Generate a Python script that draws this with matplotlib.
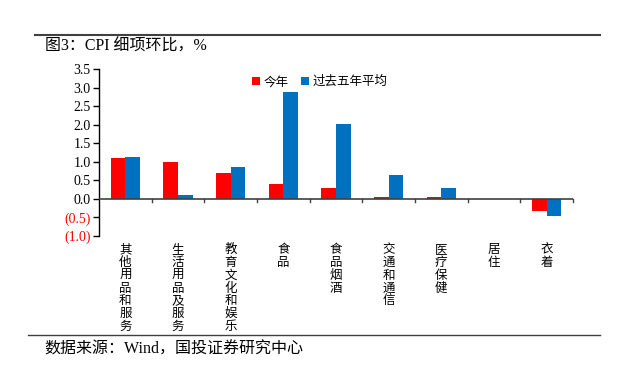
import matplotlib
matplotlib.use("Agg")
import matplotlib.pyplot as plt
import numpy as np

plt.rcParams['font.family'] = ['Liberation Serif', 'Noto Sans CJK SC']

categories = ["其他用品和服务", "生活用品及服务", "教育文化和娱乐", "食品", "食品烟酒",
              "交通和通信", "医疗保健", "居住", "衣着"]
this_year = [1.09, 0.99, 0.70, 0.39, 0.30, 0.06, 0.06, 0.0, -0.33]
avg5 = [1.13, 0.10, 0.86, 2.87, 2.02, 0.65, 0.29, 0.01, -0.46]
yticks = [-1.0, -0.5, 0.0, 0.5, 1.0, 1.5, 2.0, 2.5, 3.0, 3.5]
series_names = ["今年", "过去五年平均"]

W, H = 643, 377
fig = plt.figure(figsize=(W / 100, H / 100), dpi=100)
ax = fig.add_axes([99 / W, 1 - 236 / H, (573 - 99) / W, (236 - 69) / H])

x = np.arange(len(categories))
bw = 0.28
ax.bar(x - bw / 2, this_year, bw, color="#FF0000", label=series_names[0], zorder=2)
ax.bar(x + bw / 2, avg5, bw, color="#0070C0", label=series_names[1], zorder=2)

ax.set_xlim(-0.5, len(categories) - 0.5)
ax.set_ylim(-1.0, 3.5)
ax.set_yticks(yticks)
labels = []
for v in yticks:
    labels.append(f"({abs(v):.1f})" if v < 0 else f"{v:.1f}")
ax.set_yticklabels(labels, fontsize=10)
for t, v in zip(ax.get_yticklabels(), yticks):
    if v < 0:
        t.set_color("#FF0000")
ax.tick_params(axis='y', direction='out', length=4, width=1, pad=2)

for s in ["top", "right", "bottom"]:
    ax.spines[s].set_visible(False)
ax.spines["left"].set_linewidth(1.0)
ax.axhline(0, color="#404040", lw=1.2, zorder=3)
ax.set_xticks([])
for b in np.arange(0.5, len(categories), 1.0):
    ax.plot([b, b], [0, -0.08], color="#404040", lw=1, clip_on=False, zorder=3)

for i, c in enumerate(categories):
    ax.text(i, -1.2, "\n".join(c), ha="center", va="top", fontsize=9,
            linespacing=0.97, family=['Noto Sans CJK SC'])

leg = ax.legend(loc="upper left", bbox_to_anchor=(0.30, 1.03), ncol=2, frameon=False,
                handlelength=0.6, handleheight=0.6, handletextpad=0.3,
                columnspacing=1.0, prop={'family': ['Noto Sans CJK SC'], 'size': 9})

# top and bottom rules
fig.add_artist(plt.Line2D([35 / W, 600 / W], [1 - 35 / H, 1 - 35 / H], color="#404040", lw=1.5))
fig.add_artist(plt.Line2D([28 / W, 600 / W], [1 - 335 / H, 1 - 335 / H], color="#404040", lw=1.0))
fig.text(45 / W, 1 - 47 / H, "图3：CPI 细项环比，%", fontsize=11.5, va="center", ha="left")
fig.text(44 / W, 1 - 350 / H, "数据来源：Wind，国投证券研究中心", fontsize=11.5, va="center", ha="left")

fig.savefig("out.png", dpi=100)
